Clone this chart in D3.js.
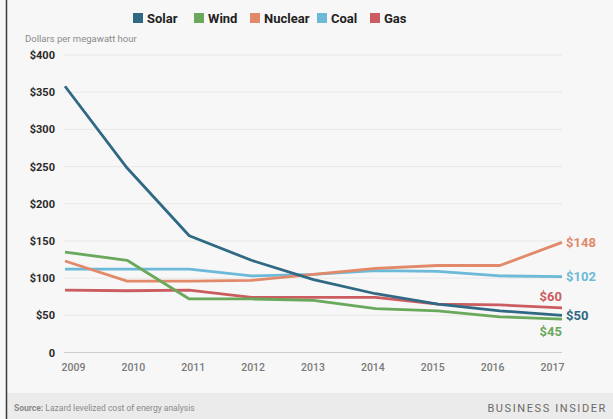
<!DOCTYPE html>
<html>
<head>
<meta charset="utf-8">
<script src="https://cdn.jsdelivr.net/npm/d3@7"></script>
<style>
body { margin: 0; background: #f7f7f7; }
svg { display: block; font-family: Roboto, "Open Sans", sans-serif; }
</style>
</head>
<body>
<script>
var width = 613, height = 419;

// data
var years = [2009, 2010, 2011, 2012, 2013, 2014, 2015, 2016, 2017];
var seriesNames = ["Solar", "Wind", "Nuclear", "Coal", "Gas"];
var solar   = [358, 248, 157, 124, 98, 79, 65, 56, 50];
var wind    = [135, 124, 72, 72, 70, 59, 56, 48, 45];
var nuclear = [123, 96, 96, 97, 105, 113, 117, 117, 148];
var coal    = [112, 112, 112, 103, 105, 110, 109, 103, 102];
var gas     = [84, 83, 84, 74, 74, 74, 65, 64, 60];
var yTicks = [0, 50, 100, 150, 200, 250, 300, 350, 400];

var colors = {Solar: "#2f6984", Wind: "#6aa85c", Nuclear: "#e2896a", Coal: "#6cbad8", Gas: "#cb5d60"};
var values = {Solar: solar, Wind: wind, Nuclear: nuclear, Coal: coal, Gas: gas};

var svg = d3.select("body")
.append("svg")
.attr("width", width)
.attr("height", height);

svg.append("rect").attr("width", width).attr("height", height).attr("fill", "#f7f7f7");

// footer band
svg.append("rect")
	.attr("x", 7).attr("y", 393)
	.attr("width", width - 7).attr("height", height - 393)
	.attr("fill", "#ebebeb");

// left border
svg.append("line")
	.attr("x1", 6.5).attr("x2", 6.5)
	.attr("y1", 0).attr("y2", height)
	.attr("stroke", "#3a3a3a").attr("stroke-width", 1.5);

var x = d3.scalePoint().domain(years).range([65, 562]);
var xLab = d3.scalePoint().domain(years).range([73, 552]);
var y = d3.scaleLinear().domain([0, 400]).range([352.5, 55]);

// gridlines
svg.selectAll(".grid")
.data(yTicks)
.enter().append("line")
	.attr("class", "grid")
	.attr("x1", 64).attr("x2", 562)
	.attr("y1", function(d){ return y(d); })
	.attr("y2", function(d){ return y(d); })
	.attr("stroke", function(d){ return d == 0 ? "#cfcfcf" : "#e8e8e8"; })
	.attr("stroke-width", 1);

// y axis labels
var yAxis = d3.axisLeft(y)
	.tickValues(yTicks)
	.tickSize(0)
	.tickPadding(0)
	.tickFormat(function(d){ return d == 0 ? "0" : "$" + d; });

var yg = svg.append("g").attr("transform", "translate(55,0)").call(yAxis);
yg.select(".domain").remove();
yg.selectAll("text")
	.attr("font-family", "Roboto, sans-serif")
	.attr("font-size", 11)
	.attr("font-weight", "bold")
	.attr("fill", "#2a2a2a");

svg.append("text")
	.attr("x", 25).attr("y", 42)
	.attr("font-size", 9.5)
	.attr("fill", "#8a8a8a")
	.text("Dollars per megawatt hour");

// x axis labels
var xAxis = d3.axisBottom(xLab).tickSize(0).tickPadding(0).tickFormat(d3.format("d"));
var xg = svg.append("g").attr("transform", "translate(0,364)").call(xAxis);
xg.select(".domain").remove();
xg.selectAll("text")
	.attr("font-family", "Roboto, sans-serif")
	.attr("font-size", 10.5)
	.attr("font-weight", 500)
	.attr("fill", "#7a7a7a");

// lines
var line = d3.line()
	.x(function(d, i){ return x(years[i]); })
	.y(function(d){ return y(d); });

var drawOrder = ["Gas", "Coal", "Nuclear", "Wind", "Solar"];
svg.selectAll(".series")
.data(drawOrder)
.enter().append("path")
	.attr("class", "series")
	.attr("d", function(d){ return line(values[d]); })
	.attr("fill", "none")
	.attr("stroke", function(d){ return colors[d]; })
	.attr("stroke-width", 2.8)
	.attr("stroke-linejoin", "round");

// end labels
var endLabels = [
	{name: "Nuclear", dx: 4, dy: 0, anchor: "start"},
	{name: "Coal", dx: 4, dy: 0, anchor: "start"},
	{name: "Gas", dx: 0, dy: -12, anchor: "end"},
	{name: "Solar", dx: 4, dy: 0, anchor: "start"},
	{name: "Wind", dx: 0, dy: 12, anchor: "end"}
];
svg.selectAll(".endLabel")
.data(endLabels)
.enter().append("text")
	.attr("class", "endLabel")
	.attr("x", function(d){ return x(2017) + d.dx; })
	.attr("y", function(d){ return y(values[d.name][8]) + d.dy; })
	.attr("dy", "0.36em")
	.attr("text-anchor", function(d){ return d.anchor; })
	.attr("font-size", 13)
	.attr("font-weight", "bold")
	.attr("fill", function(d){ return colors[d.name]; })
	.text(function(d){ return "$" + values[d.name][8]; });

// legend
var legendX = [133, 194, 250, 317, 370];
var legend = svg.selectAll(".legend")
.data(seriesNames)
.enter().append("g")
	.attr("class", "legend")
	.attr("transform", function(d, i){ return "translate(" + legendX[i] + ",13)"; });

legend.append("rect")
	.attr("width", 10).attr("height", 10)
	.attr("fill", function(d){ return colors[d]; });

legend.append("text")
	.attr("x", 14).attr("y", 5)
	.attr("dy", "0.36em")
	.attr("font-size", 13)
	.attr("font-weight", "bold")
	.attr("fill", "#222")
	.text(function(d){ return d; });

// footer text
var src = svg.append("text")
	.attr("x", 14).attr("y", 411)
	.attr("font-size", 8.5)
	.attr("fill", "#8a8a8a");
src.append("tspan").attr("font-weight", "bold").text("Source:");
src.append("tspan").text(" Lazard levelized cost of energy analysis");

svg.append("text")
	.attr("x", 607).attr("y", 412)
	.attr("text-anchor", "end")
	.attr("font-size", 11)
	.attr("letter-spacing", 1.6)
	.attr("fill", "#6a6a6a")
	.text("BUSINESS INSIDER");
</script>
</body>
</html>
